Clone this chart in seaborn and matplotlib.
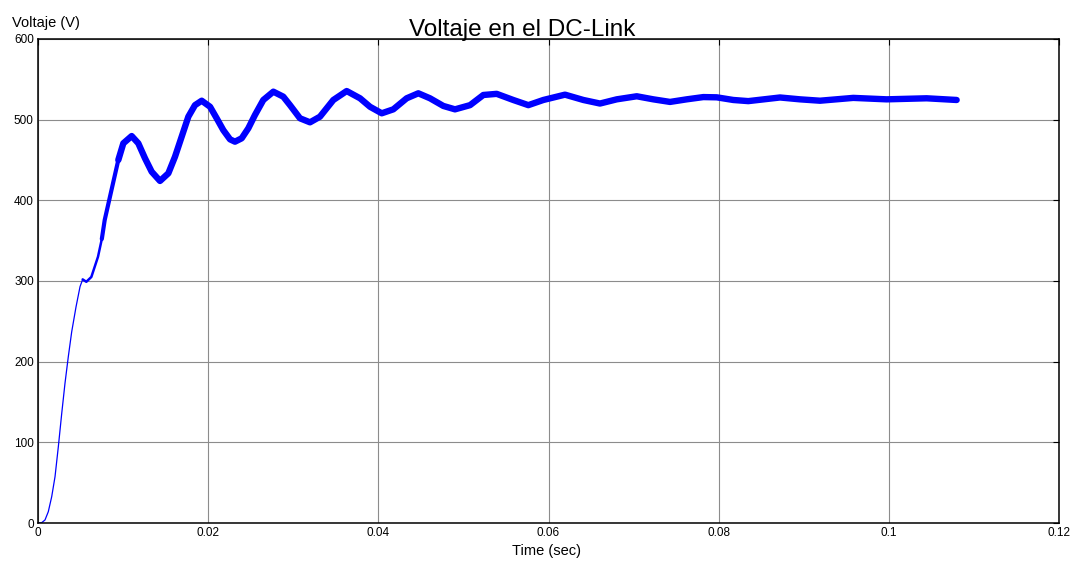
import matplotlib
matplotlib.use("Agg")
import matplotlib.pyplot as plt
import seaborn as sns
import pandas as pd

# ---- data ----
# start-up (thin trace)
t_start = [0.0, 0.00043, 0.00082, 0.00121, 0.00161, 0.0020, 0.00239, 0.00279,
           0.00317, 0.00356, 0.00396, 0.00447, 0.00494, 0.00525]
v_start = [0.0, 0.4, 3.7, 14.0, 32.6, 57.4, 94.6, 136.0,
           173.0, 206.0, 237.0, 268.0, 293.0, 302.0]

# kink and early rise (thin-to-medium trace)
t_kink = [0.00525, 0.00568, 0.00627, 0.00705, 0.00750]
v_kink = [302.0, 299.0, 305.0, 330.0, 352.0]

t_rise = [0.00750, 0.00784, 0.00862, 0.00944]
v_rise = [352.0, 375.6, 412.0, 450.0]

# oscillating part (thick trace with ripple)
t_osc = [0.00944, 0.01003, 0.01101, 0.01179, 0.01258, 0.01336, 0.01434, 0.01532,
         0.0161, 0.01689, 0.01767, 0.01845, 0.01924, 0.02022, 0.021, 0.02178,
         0.02257, 0.02315, 0.02394, 0.02472, 0.0255, 0.02648, 0.02766, 0.02883,
         0.02962, 0.03079, 0.03197, 0.03314, 0.03471, 0.03628, 0.03785, 0.03902,
         0.0404, 0.04176, 0.04333, 0.0447, 0.04607, 0.04764, 0.04901, 0.05078,
         0.05234, 0.05391, 0.05586, 0.05763, 0.05939, 0.06194, 0.0641, 0.06605,
         0.06802, 0.07037, 0.07232, 0.07428, 0.07624, 0.0782, 0.07977, 0.08172,
         0.08348, 0.08721, 0.08956, 0.09191, 0.09582, 0.09974, 0.10444, 0.10797]
v_osc = [450.0, 470.7, 479.7, 470.7, 452.0, 435.5, 424.0, 433.5,
         454.0, 479.0, 503.7, 518.0, 523.5, 516.0, 501.7, 487.0,
         475.6, 472.7, 476.9, 489.3, 505.8, 524.4, 534.7, 528.5,
         518.0, 501.7, 496.7, 503.7, 524.4, 535.5, 526.5, 516.0,
         507.9, 512.8, 526.5, 532.7, 526.5, 517.0, 512.8, 518.0,
         530.6, 532.0, 524.4, 518.0, 524.4, 531.0, 524.4, 520.0,
         525.2, 529.0, 525.2, 522.0, 525.2, 528.0, 527.7, 524.4,
         523.0, 527.5, 525.2, 523.5, 527.0, 525.2, 526.5, 524.4]

x_ticks = [0, 0.02, 0.04, 0.06, 0.08, 0.1, 0.12]
x_tick_labels = ["0", "0.02", "0.04", "0.06", "0.08", "0.1", "0.12"]
y_ticks = [0, 100, 200, 300, 400, 500, 600]

title_text = "Voltaje en el DC-Link"
ylabel_text = "Voltaje (V)"
xlabel_text = "Time (sec)"

# ---- build table ----
df = pd.concat([
    pd.DataFrame({"t": t_start, "v": v_start, "seg": "a"}),
    pd.DataFrame({"t": t_kink, "v": v_kink, "seg": "b"}),
    pd.DataFrame({"t": t_rise, "v": v_rise, "seg": "c"}),
    pd.DataFrame({"t": t_osc, "v": v_osc, "seg": "d"}),
], ignore_index=True)

sns.set_style("white")
plt.rcParams["font.family"] = ["Liberation Sans", "DejaVu Sans"]

fig = plt.figure(figsize=(10.76, 5.61), dpi=100)
ax = fig.add_axes([38 / 1076, 1 - 523 / 561, (1059 - 38) / 1076, (523 - 39) / 561])

sns.lineplot(data=df, x="t", y="v", units="seg", size="seg",
             sizes={"a": 0.9, "b": 1.8, "c": 3.0, "d": 4.6}, estimator=None,
             sort=False, color="#0000ff", legend=False, ax=ax,
             solid_capstyle="round", solid_joinstyle="round")

ax.set_xlim(0, 0.12)
ax.set_ylim(0, 600)
ax.set_xticks(x_ticks)
ax.set_xticklabels(x_tick_labels)
ax.set_yticks(y_ticks)
ax.grid(True, color="#8c8c8c", linewidth=0.8)
ax.set_axisbelow(True)
for s in ax.spines.values():
    s.set_color("black")
    s.set_linewidth(1.1)
ax.tick_params(direction="in", length=4, width=0.8, top=True, right=True,
               labelsize=8.5, colors="black", pad=3)
ax.set_xlabel("")
ax.set_ylabel("")

fig.text(522 / 1076, 1 - 36 / 561, title_text, ha="center", va="baseline",
         fontsize=17.5, color="black")
fig.text(12 / 1076, 1 - 27 / 561, ylabel_text, ha="left", va="baseline",
         fontsize=10.5, color="black")
fig.text(547 / 1076, 1 - 555 / 561, xlabel_text, ha="center", va="baseline",
         fontsize=10.5, color="black")

fig.savefig("out.png", dpi=100, facecolor="white")
